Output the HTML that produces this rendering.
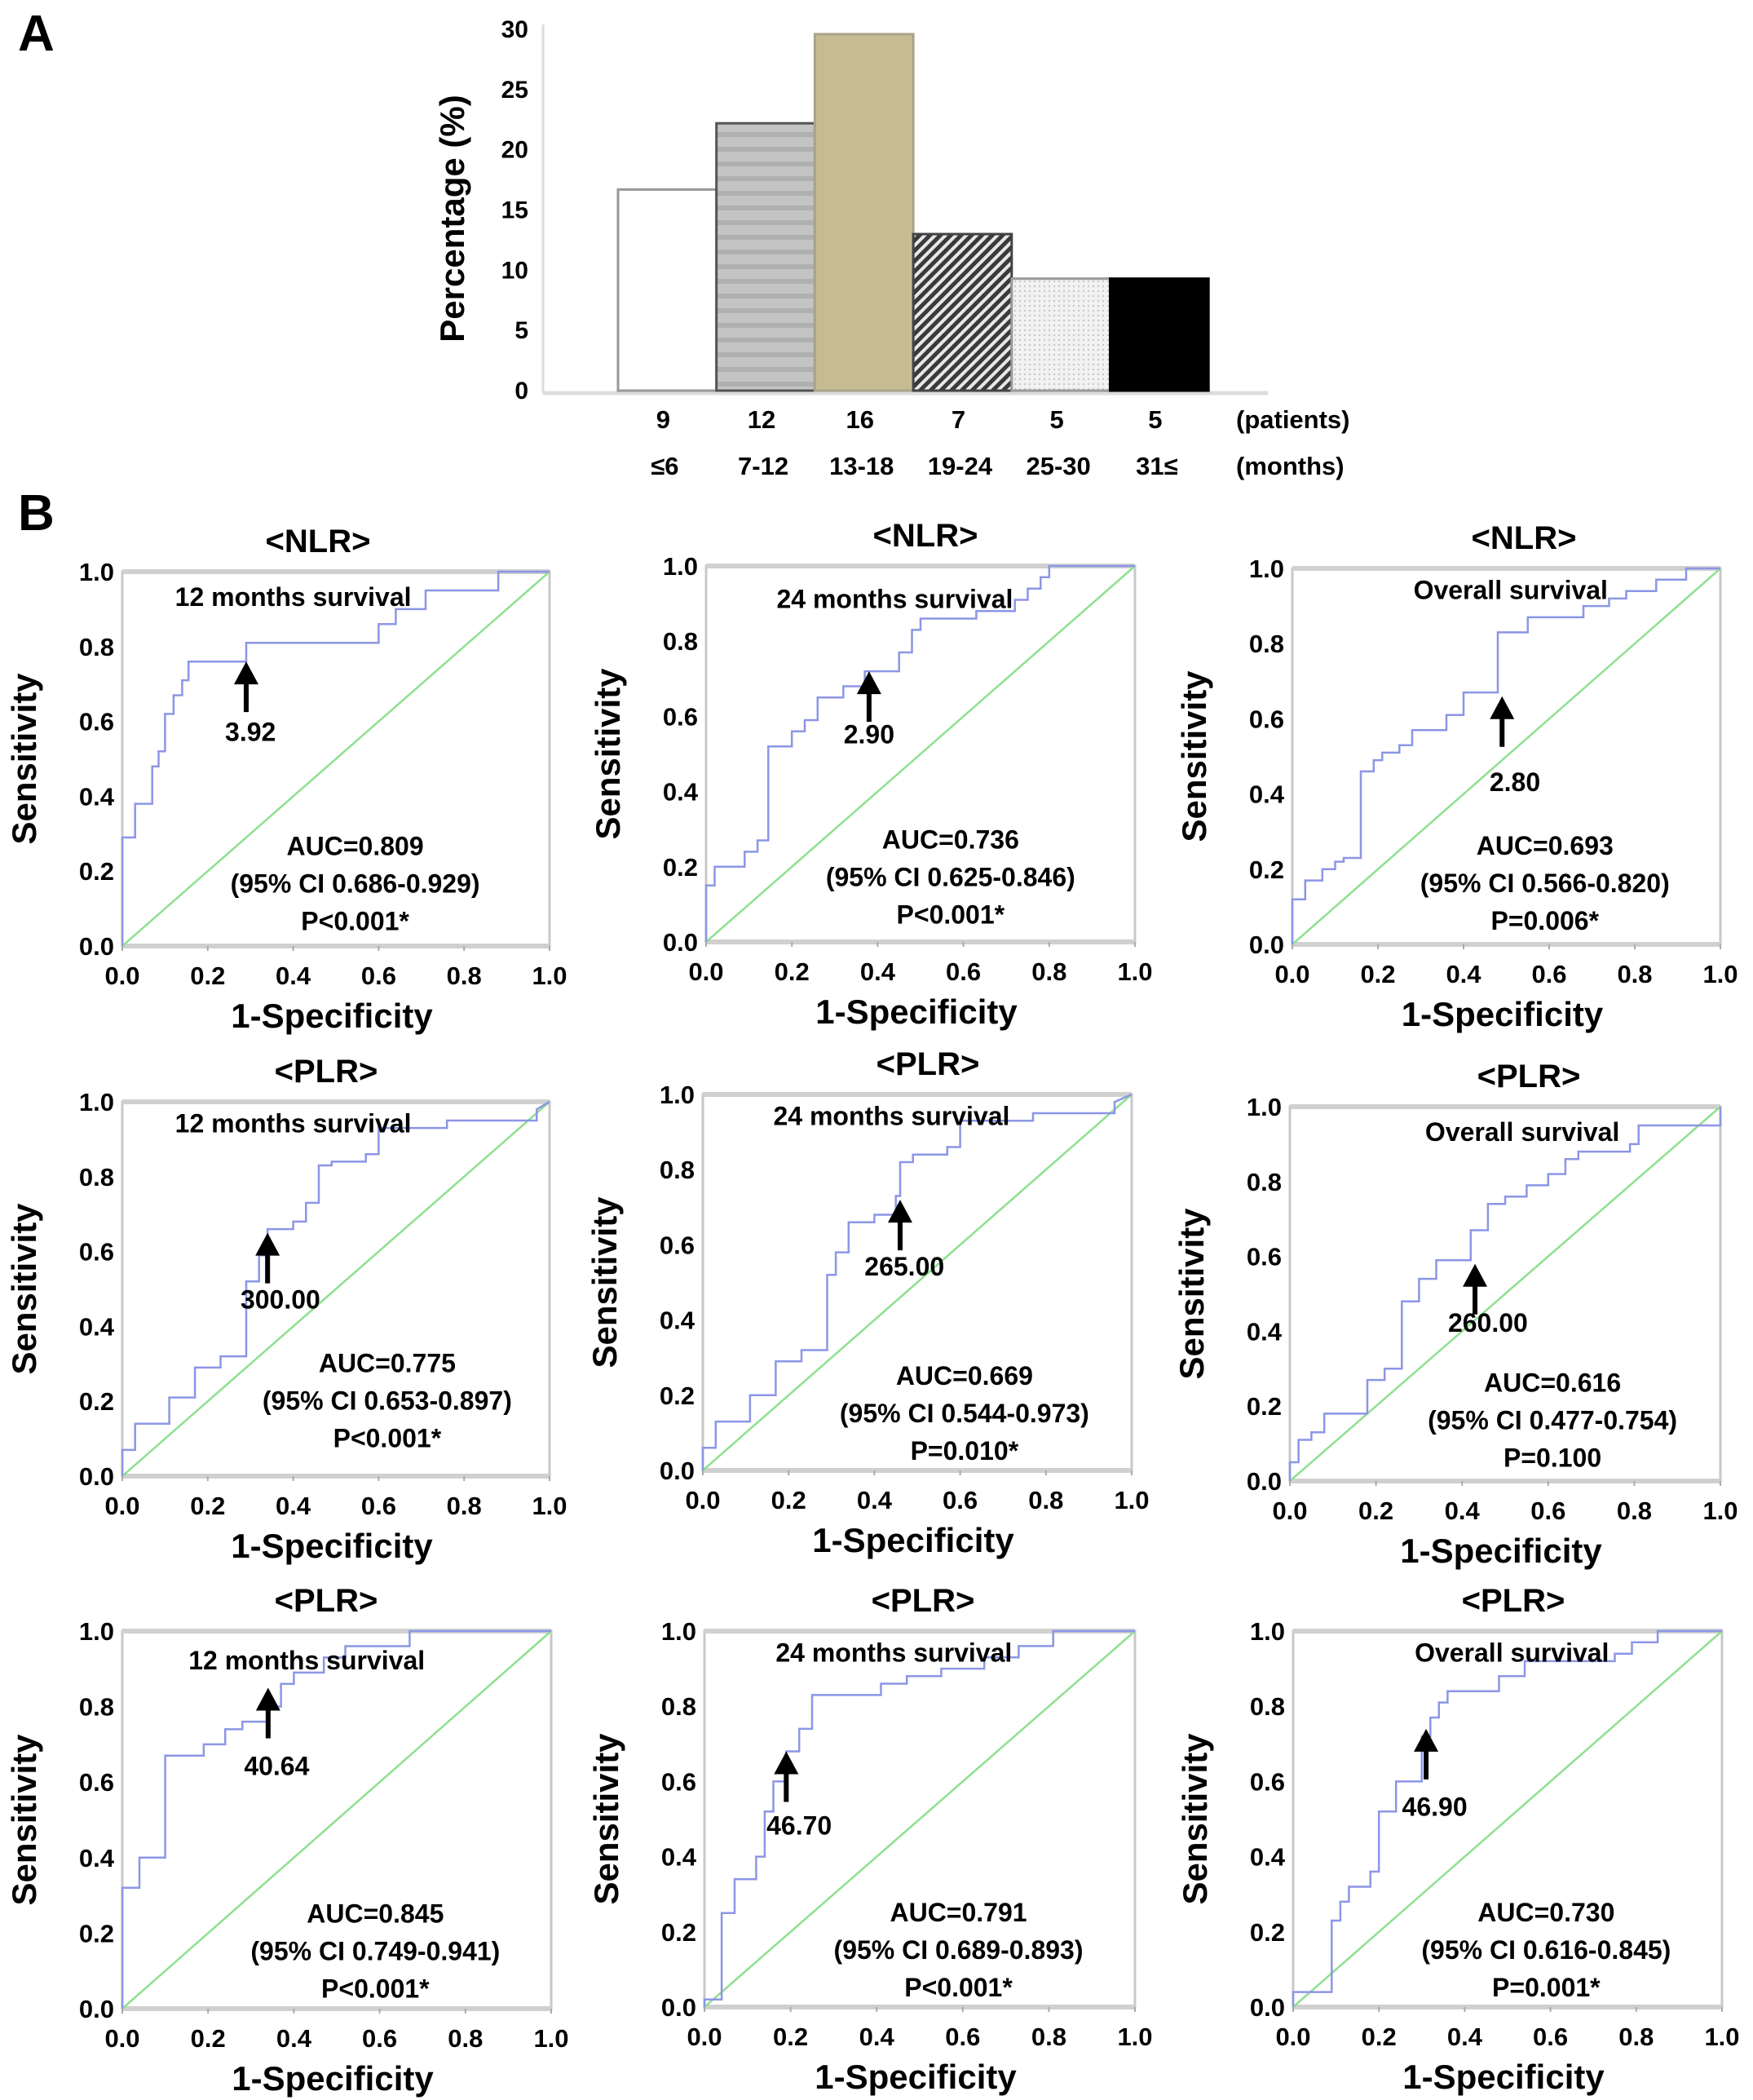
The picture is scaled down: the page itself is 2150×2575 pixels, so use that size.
<!DOCTYPE html>
<html><head><meta charset="utf-8">
<style>
html,body{margin:0;padding:0;background:#fff;}
svg{display:block;font-family:"Liberation Sans",Arial,sans-serif;font-weight:bold;}
</style></head>
<body>
<svg id="fig" width="2150" height="2575" viewBox="0 0 2150 2575" xmlns="http://www.w3.org/2000/svg">
<defs>
<pattern id="pHoriz" width="10" height="18" patternUnits="userSpaceOnUse"><rect width="10" height="18" fill="#c4c4c4"/><rect y="0" width="10" height="6" fill="#b0b0b0"/></pattern>
<pattern id="pDiag" width="9" height="9" patternUnits="userSpaceOnUse" patternTransform="rotate(-45)"><rect width="9" height="9" fill="#e8e8e8"/><rect width="9" height="5" fill="#3a3a3a"/></pattern>
<pattern id="pDot" width="6" height="6" patternUnits="userSpaceOnUse"><rect width="6" height="6" fill="#f2f2f2"/><circle cx="3" cy="3" r="1.2" fill="#c8c8c8"/></pattern>
</defs>
<text x="22" y="62" font-size="62">A</text>
<text x="22" y="650" font-size="62">B</text>
<g id="barchart"></g>
<g id="rocs"></g>
</svg>
<script>
// ---------- Bar chart data ----------
const barMonths = ["≤6","7-12","13-18","19-24","25-30","31≤"];
const barPatients = [9,12,16,7,5,5];
const barPercent = [16.7,22.2,29.6,13.0,9.3,9.3];
const barTicks = [0,5,10,15,20,25,30];

// ---------- ROC data ----------
const rocTitles = ["<NLR>","<NLR>","<NLR>","<PLR>","<PLR>","<PLR>","<PLR>","<PLR>","<PLR>"];
const rocSubtitles = ["12 months survival","24 months survival","Overall survival","12 months survival","24 months survival","Overall survival","12 months survival","24 months survival","Overall survival"];
const rocAUC = ["AUC=0.809","AUC=0.736","AUC=0.693","AUC=0.775","AUC=0.669","AUC=0.616","AUC=0.845","AUC=0.791","AUC=0.730"];
const rocCI = ["(95% CI 0.686-0.929)","(95% CI 0.625-0.846)","(95% CI 0.566-0.820)","(95% CI 0.653-0.897)","(95% CI 0.544-0.973)","(95% CI 0.477-0.754)","(95% CI 0.749-0.941)","(95% CI 0.689-0.893)","(95% CI 0.616-0.845)"];
const rocP = ["P<0.001*","P<0.001*","P=0.006*","P<0.001*","P=0.010*","P=0.100","P<0.001*","P<0.001*","P=0.001*"];
const rocCutoff = ["3.92","2.90","2.80","300.00","265.00","260.00","40.64","46.70","46.90"];
const rocArrowX = [0.29,0.38,0.49,0.34,0.46,0.43,0.34,0.19,0.31];
const rocArrowTip = [0.76,0.72,0.66,0.65,0.72,0.58,0.85,0.68,0.74];
const rocTicks = [0,0.2,0.4,0.6,0.8,1.0];

const roc1Fpr=[0,0,0.03,0.03,0.07,0.07,0.085,0.085,0.1,0.1,0.12,0.12,0.14,0.14,0.155,0.155,0.29,0.29,0.6,0.6,0.64,0.64,0.71,0.71,0.88,0.88,1];
const roc1Tpr=[0,0.29,0.29,0.38,0.38,0.48,0.48,0.52,0.52,0.62,0.62,0.67,0.67,0.71,0.71,0.76,0.76,0.81,0.81,0.86,0.86,0.90,0.90,0.95,0.95,1,1];
const roc2Fpr=[0,0,0.02,0.02,0.09,0.09,0.12,0.12,0.145,0.145,0.2,0.2,0.23,0.23,0.26,0.26,0.32,0.32,0.37,0.37,0.45,0.45,0.48,0.48,0.5,0.5,0.63,0.63,0.72,0.72,0.75,0.75,0.78,0.78,0.8,0.8,1];
const roc2Tpr=[0,0.15,0.15,0.2,0.2,0.24,0.24,0.27,0.27,0.52,0.52,0.56,0.56,0.59,0.59,0.65,0.65,0.68,0.68,0.72,0.72,0.77,0.77,0.83,0.83,0.86,0.86,0.88,0.88,0.91,0.91,0.94,0.94,0.97,0.97,1,1];
const roc3Fpr=[0,0,0.03,0.03,0.07,0.07,0.1,0.1,0.12,0.12,0.16,0.16,0.19,0.19,0.21,0.21,0.25,0.25,0.28,0.28,0.36,0.36,0.4,0.4,0.48,0.48,0.55,0.55,0.68,0.68,0.74,0.74,0.78,0.78,0.85,0.85,0.92,0.92,1];
const roc3Tpr=[0,0.12,0.12,0.17,0.17,0.2,0.2,0.22,0.22,0.23,0.23,0.46,0.46,0.49,0.49,0.51,0.51,0.53,0.53,0.57,0.57,0.61,0.61,0.67,0.67,0.83,0.83,0.87,0.87,0.90,0.90,0.92,0.92,0.94,0.94,0.97,0.97,1,1];
const roc4Fpr=[0,0,0.03,0.03,0.11,0.11,0.17,0.17,0.23,0.23,0.29,0.29,0.32,0.32,0.34,0.34,0.4,0.4,0.43,0.43,0.46,0.46,0.49,0.49,0.57,0.57,0.6,0.6,0.76,0.76,0.97,0.97,1];
const roc4Tpr=[0,0.07,0.07,0.14,0.14,0.21,0.21,0.29,0.29,0.32,0.32,0.52,0.52,0.59,0.59,0.66,0.66,0.68,0.68,0.73,0.73,0.83,0.83,0.84,0.84,0.86,0.86,0.93,0.93,0.95,0.95,0.98,1];
const roc5Fpr=[0,0,0.03,0.03,0.11,0.11,0.17,0.17,0.23,0.23,0.29,0.29,0.31,0.31,0.34,0.34,0.4,0.4,0.45,0.45,0.46,0.46,0.49,0.49,0.57,0.57,0.6,0.6,0.77,0.77,0.96,0.96,1];
const roc5Tpr=[0,0.06,0.06,0.13,0.13,0.2,0.2,0.29,0.29,0.32,0.32,0.52,0.52,0.58,0.58,0.66,0.66,0.68,0.68,0.73,0.73,0.82,0.82,0.84,0.84,0.86,0.86,0.93,0.93,0.95,0.95,0.98,1];
const roc6Fpr=[0,0,0.02,0.02,0.05,0.05,0.08,0.08,0.18,0.18,0.22,0.22,0.26,0.26,0.3,0.3,0.34,0.34,0.42,0.42,0.46,0.46,0.5,0.5,0.55,0.55,0.6,0.6,0.64,0.64,0.67,0.67,0.79,0.79,0.81,0.81,1,1];
const roc6Tpr=[0,0.05,0.05,0.11,0.11,0.13,0.13,0.18,0.18,0.27,0.27,0.30,0.30,0.48,0.48,0.54,0.54,0.59,0.59,0.67,0.67,0.74,0.74,0.76,0.76,0.79,0.79,0.82,0.82,0.86,0.86,0.88,0.88,0.9,0.9,0.95,0.95,1];
const roc7Fpr=[0,0,0.04,0.04,0.1,0.1,0.19,0.19,0.24,0.24,0.28,0.28,0.34,0.34,0.37,0.37,0.4,0.4,0.47,0.47,0.52,0.52,0.67,0.67,1];
const roc7Tpr=[0,0.32,0.32,0.4,0.4,0.67,0.67,0.7,0.7,0.74,0.74,0.76,0.76,0.8,0.8,0.86,0.86,0.89,0.89,0.93,0.93,0.96,0.96,1,1];
const roc8Fpr=[0,0,0.04,0.04,0.07,0.07,0.12,0.12,0.14,0.14,0.16,0.16,0.19,0.19,0.22,0.22,0.25,0.25,0.41,0.41,0.47,0.47,0.55,0.55,0.65,0.65,0.73,0.73,0.81,0.81,1];
const roc8Tpr=[0,0.02,0.02,0.25,0.25,0.34,0.34,0.4,0.4,0.52,0.52,0.6,0.6,0.68,0.68,0.74,0.74,0.83,0.83,0.86,0.86,0.88,0.88,0.9,0.9,0.93,0.93,0.96,0.96,1,1];
const roc9Fpr=[0,0,0.09,0.09,0.11,0.11,0.13,0.13,0.18,0.18,0.2,0.2,0.24,0.24,0.3,0.3,0.32,0.32,0.34,0.34,0.36,0.36,0.48,0.48,0.54,0.54,0.75,0.75,0.79,0.79,0.85,0.85,1];
const roc9Tpr=[0,0.04,0.04,0.23,0.23,0.28,0.28,0.32,0.32,0.36,0.36,0.52,0.52,0.6,0.6,0.72,0.72,0.77,0.77,0.81,0.81,0.84,0.84,0.88,0.88,0.92,0.92,0.94,0.94,0.97,0.97,1,1];
const rocFprs=[roc1Fpr,roc2Fpr,roc3Fpr,roc4Fpr,roc5Fpr,roc6Fpr,roc7Fpr,roc8Fpr,roc9Fpr];
const rocTprs=[roc1Tpr,roc2Tpr,roc3Tpr,roc4Tpr,roc5Tpr,roc6Tpr,roc7Tpr,roc8Tpr,roc9Tpr];

// ---------- layout (not data) ----------
const NS="http://www.w3.org/2000/svg";
function mk(tag,attrs,parent,text){const e=document.createElementNS(NS,tag);for(const k in attrs)e.setAttribute(k,attrs[k]);if(text!==undefined)e.textContent=text;parent.appendChild(e);return e;}

// Bar chart
(function(){
  const g=document.getElementById('barchart');
  const axX=666, y0=479, y30=36, bx0=758, bw=120.7;
  const ys=v=>y0-(v/30)*(y0-y30);
  const fills=["#ffffff","url(#pHoriz)","#c6bb93","url(#pDiag)","url(#pDot)","#000000"];
  const strokes=["#999","#555","#aaa38a","#444","#999","#000"];
  const ax=mk('line',{x1:axX,y1:y30-6,x2:axX,y2:y0+3,stroke:"#ddd","stroke-width":3},g);
  
  
  const bl=mk('line',{x1:axX,y1:y0+3,x2:1555,y2:y0+3,stroke:"#ddd","stroke-width":5},g);
  
  
  barTicks.forEach(t=>{
    const tx=mk('text',{x:648,y:ys(t)+10,"font-size":30,"text-anchor":"end"},g,String(t));
    
    
  });
  const yt=mk('text',{x:0,y:0,"font-size":42,"text-anchor":"middle",transform:"translate(569,268) rotate(-90)"},g,"Percentage (%)");
  
  
  barPercent.forEach((v,i)=>{
    const x=bx0+i*bw;
    const r=mk('rect',{x:x,y:ys(v),width:bw,height:y0-ys(v),fill:fills[i],stroke:strokes[i],"stroke-width":3},g);
    
    
    const p=mk('text',{x:x+bw/2-5,y:525,"font-size":31,"text-anchor":"middle"},g,String(barPatients[i]));
    
    
    const m=mk('text',{x:x+bw/2-3,y:582,"font-size":31,"text-anchor":"middle"},g,barMonths[i]);
    
    
  });
  const pl=mk('text',{x:1516,y:525,"font-size":31},g,"(patients)");
  
  
  const ml=mk('text',{x:1516,y:582,"font-size":31},g,"(months)");
  
  
})();

// ROC panels
const panelX=[150,866,1585,150,862,1582,150,864,1586];
const panelY=[701,694,697,1351,1342,1357,2000,2000,2000];
const panelW=[524,526,525,524,526,528,526,528,526];
const panelH=[459,461,461,459,461,459,463,461,461];
const titleX=[390,1135,1869,400,1138,1875,400,1132,1856];
const subPos=[[0.40,0.93],[0.44,0.91],[0.51,0.94],[0.40,0.94],[0.44,0.94],[0.54,0.93],[0.43,0.92],[0.44,0.94],[0.51,0.94]];
const aucPos=[[0.545,0.265],[0.57,0.27],[0.59,0.26],[0.62,0.30],[0.61,0.25],[0.61,0.26],[0.59,0.25],[0.59,0.25],[0.59,0.25]];
const cutPos=[[0.30,0.57],[0.38,0.55],[0.52,0.43],[0.37,0.47],[0.47,0.54],[0.46,0.42],[0.36,0.64],[0.22,0.48],[0.33,0.53]];
const g=document.getElementById('rocs');
for(let i=0;i<9;i++){
  const X=panelX[i],Y=panelY[i],W=panelW[i],H=panelH[i];
  const sx=v=>X+v*W, sy=v=>Y+H-v*H;
  const pg=mk('g',{},g);
  
  
  const t=mk('text',{x:titleX[i],y:Y-24,"font-size":40,"text-anchor":"middle"},pg,rocTitles[i]);
  
  
  const fr=mk('rect',{x:X,y:Y,width:W,height:H,fill:"none",stroke:"#c8c8c8","stroke-width":3},pg);
  
  
  mk('line',{x1:X,y1:Y,x2:X+W,y2:Y,stroke:"#d0d0d0","stroke-width":6},pg);
  mk('line',{x1:X,y1:Y+H,x2:X+W,y2:Y+H,stroke:"#d0d0d0","stroke-width":6},pg);
  rocTicks.forEach(tk=>{
    const yl=mk('text',{x:X-10,y:sy(tk)+11,"font-size":31,"text-anchor":"end"},pg,tk.toFixed(1));
    
    
    const xl=mk('text',{x:sx(tk),y:Y+H+47,"font-size":31,"text-anchor":"middle"},pg,tk.toFixed(1));
    
    
    mk('line',{x1:sx(tk),y1:Y+H,x2:sx(tk),y2:Y+H+6,stroke:"#aaa","stroke-width":2},pg);
  });
  const xt=mk('text',{x:X+W/2-5,y:Y+H+100,"font-size":42,"text-anchor":"middle"},pg,"1-Specificity");
  
  
  const ytt=mk('text',{x:0,y:0,"font-size":42,"text-anchor":"middle",transform:`translate(${X-106},${Y+H/2}) rotate(-90)`},pg,"Sensitivity");
  
  
  const dg=mk('line',{x1:sx(0),y1:sy(0),x2:sx(1),y2:sy(1),stroke:"#8fe08f","stroke-width":2.5},pg);
  
  
  const pts=rocFprs[i].map((f,j)=>sx(f).toFixed(1)+','+sy(rocTprs[i][j]).toFixed(1)).join(' ');
  const cv=mk('polyline',{points:pts,fill:"none",stroke:"#8c96e6","stroke-width":2.5},pg);
  
  
  const st=mk('text',{x:sx(subPos[i][0]),y:sy(subPos[i][1])+10,"font-size":32,"text-anchor":"middle"},pg,rocSubtitles[i]);
  
  
  [rocAUC[i],rocCI[i],rocP[i]].forEach((s,k)=>{
    const a=mk('text',{x:sx(aucPos[i][0]),y:sy(aucPos[i][1])+10+k*46,"font-size":32,"text-anchor":"middle"},pg,s);
    
    
  });
  const ax=sx(rocArrowX[i]), tip=sy(rocArrowTip[i]);
  const ar=mk('g',{},pg);
  
  
  mk('line',{x1:ax,y1:tip+22,x2:ax,y2:tip+62,stroke:"#000","stroke-width":6},ar);
  mk('polygon',{points:`${ax},${tip} ${ax-15},${tip+28} ${ax+15},${tip+28}`,fill:"#000"},ar);
  const cl=mk('text',{x:sx(cutPos[i][0]),y:sy(cutPos[i][1])+10,"font-size":32,"text-anchor":"middle"},pg,rocCutoff[i]);
  
  
}
</script>
</body></html>
